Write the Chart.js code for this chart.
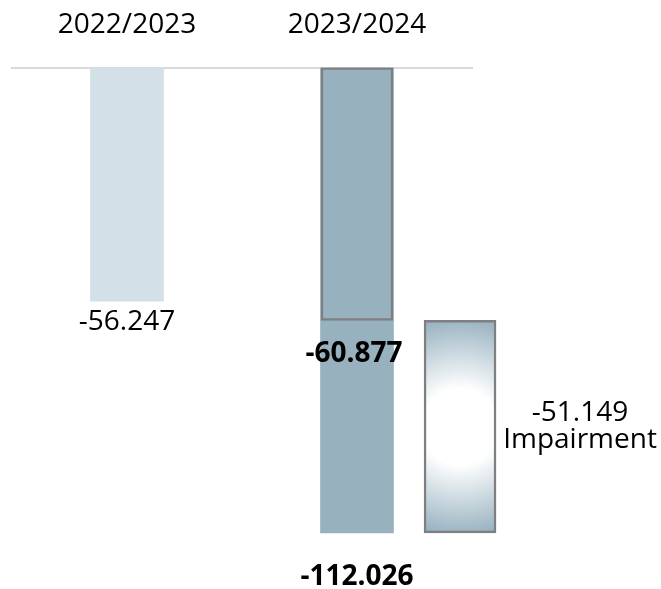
<!DOCTYPE html>
<html>
<head>
<meta charset="utf-8">
<script src="https://cdn.jsdelivr.net/npm/chart.js@4/dist/chart.umd.min.js"></script>
<style>
  html, body { margin: 0; padding: 0; background: #ffffff; }
  #wrap { width: 661px; height: 589px; position: relative; }
</style>
</head>
<body>
<div id="wrap"><canvas id="c"></canvas></div>
<script>
// ---- data ----
const categories = ['2022/2023', '2023/2024'];
const totals = [-56.247, -112.026];          // total result per year
const beforeImpairment = [-60.877];          // 2023/2024 result before impairment
const impairment = [-51.149];                // 2023/2024 impairment
const impairmentLabel = ['Impairment'];

// ---- styling ----
const FONT = "'Open Sans', 'Noto Sans', sans-serif";
const FS = 28;
const catPos = [0, 1];
const impPos = 1.448;
const colLight = '#d3e0e7';
const colDark = '#97b1bf';
const colBorder = '#7f7f7f';

function impGradient(ctx) {
  const chart = ctx.chart;
  const xs = chart.scales.x, ys = chart.scales.y;
  if (!xs || !ys || !chart.chartArea) return colDark;
  const cx = xs.getPixelForValue(impPos);
  const top = ys.getPixelForValue(beforeImpairment[0]);
  const bot = ys.getPixelForValue(beforeImpairment[0] + impairment[0]);
  const cy = (top + bot) / 2;
  const r = (bot - top) / 2;
  const g = chart.ctx.createRadialGradient(cx, cy, 0, cx, cy, r * 1.02);
  g.addColorStop(0, '#ffffff');
  g.addColorStop(0.35, '#ffffff');
  g.addColorStop(1, '#99b3c1');
  return g;
}

const labelPlugin = {
  id: 'valueLabels',
  afterDatasetsDraw(chart) {
    const c = chart.ctx;
    c.save();
    c.fillStyle = '#000000';
    c.textAlign = 'center';
    c.textBaseline = 'alphabetic';
    const m0 = chart.getDatasetMeta(0).data;
    const m1 = chart.getDatasetMeta(1).data;
    const m2 = chart.getDatasetMeta(2).data;
    // 2022/2023 total
    c.font = `${FS}px ${FONT}`;
    c.fillText(totals[0].toFixed(3), m0[0].x, m0[0].y + 29);
    // 2023/2024 before impairment
    c.font = `bold ${FS}px ${FONT}`;
    c.fillText(beforeImpairment[0].toFixed(3), m1[0].x - 3, m1[0].y + 42);
    // 2023/2024 total
    c.fillText(totals[1].toFixed(3), m0[1].x, m0[1].y + 52);
    // impairment
    const b = m2[0];
    const mid = (b.y + b.base) / 2;
    c.font = `${FS}px ${FONT}`;
    c.fillText(impairment[0].toFixed(3), b.x + 120, mid - 6);
    c.fillText(impairmentLabel[0], b.x + 120, mid + 21);
    c.restore();
  }
};

new Chart(document.getElementById('c'), {
  type: 'bar',
  data: {
    datasets: [
      {
        label: 'total',
        data: totals.map((v, i) => ({ x: catPos[i], y: [0, v] })),
        backgroundColor: [colLight, colDark],
        borderWidth: 0,
        barThickness: 73,
        grouped: false,
        order: 3
      },
      {
        label: 'before impairment',
        data: beforeImpairment.map(v => ({ x: catPos[1], y: [0, v] })),
        backgroundColor: colDark,
        borderColor: colBorder,
        borderWidth: 2.5,
        borderSkipped: false,
        barThickness: 72,
        grouped: false,
        order: 2
      },
      {
        label: 'impairment',
        data: impairment.map(v => ({ x: impPos, y: [beforeImpairment[0], beforeImpairment[0] + v] })),
        backgroundColor: impGradient,
        borderColor: colBorder,
        borderWidth: 2.5,
        borderSkipped: false,
        barThickness: 72,
        grouped: false,
        clip: false,
        order: 1
      }
    ]
  },
  options: {
    responsive: true,
    maintainAspectRatio: false,
    animation: false,
    devicePixelRatio: 1,
    layout: { padding: { left: 12, right: 189, top: -18, bottom: 23 } },
    plugins: { legend: { display: false }, tooltip: { enabled: false } },
    scales: {
      x: {
        type: 'linear',
        position: 'top',
        offset: false,
        min: -0.5,
        max: 1.5,
        afterBuildTicks(axis) { axis.ticks = catPos.map(v => ({ value: v })); },
        ticks: {
          autoSkip: false,
          maxRotation: 0,
          padding: 26,
          color: '#000000',
          font: { family: FONT, size: FS },
          callback: (v) => categories[catPos.indexOf(v)]
        },
        grid: { display: false, drawTicks: false },
        border: { display: true, color: '#d9d9d9', width: 2 }
      },
      y: {
        display: false,
        min: -120,
        max: 0
      }
    }
  },
  plugins: [labelPlugin]
});
</script>
</body>
</html>
